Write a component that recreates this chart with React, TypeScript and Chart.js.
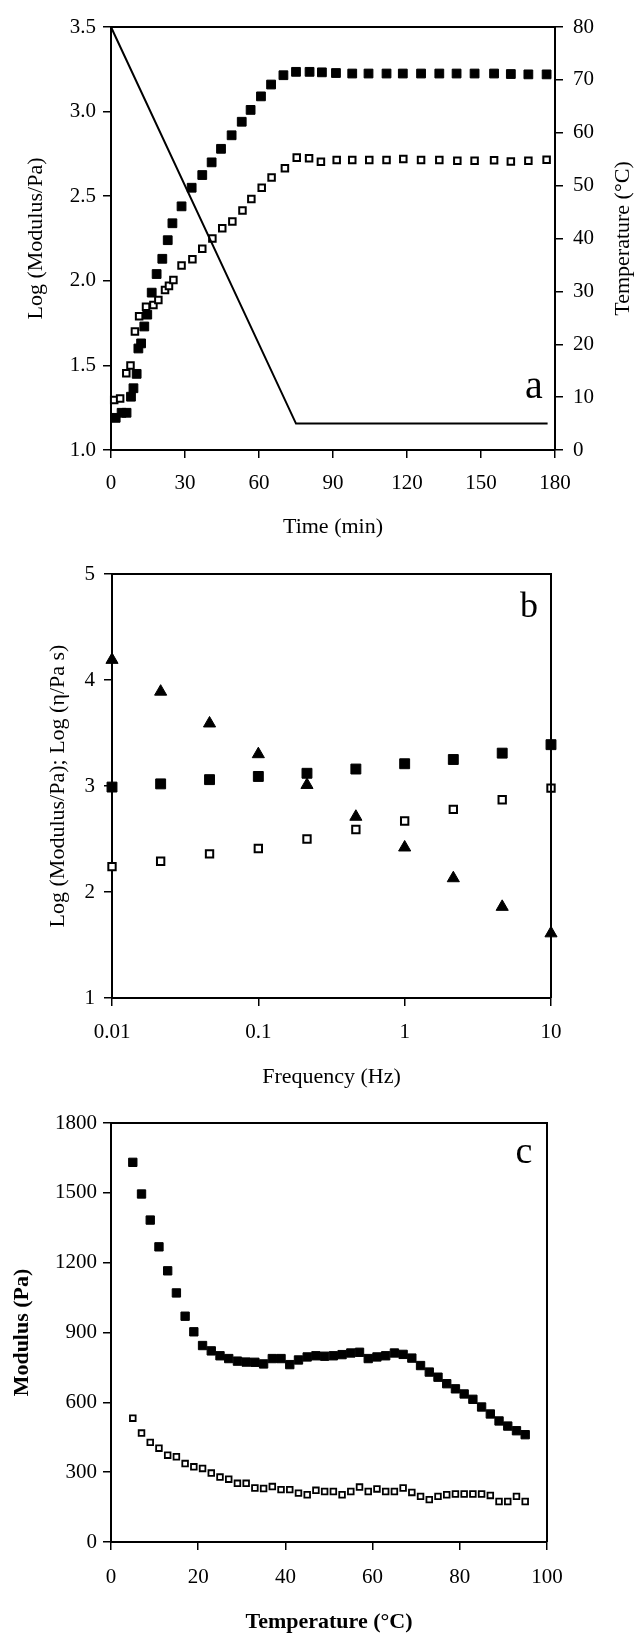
import React, { useEffect, useRef } from 'react';
import { Chart, registerables } from 'chart.js';

Chart.register(...registerables);

const FONT = '"Liberation Serif", "Times New Roman", serif';

// ---------- Panel a: time sweep ----------
const aTimeGp = [1.9, 4.3, 6.3, 8.1, 9.1, 10.4, 11.1, 12.2, 13.5, 14.7, 16.5, 18.5, 20.8, 23.0, 24.9, 28.6, 32.7, 37.0, 40.8, 44.6, 48.9, 53.0, 56.6, 60.8, 64.9, 69.9, 75.0, 80.5, 85.5, 91.2, 97.8, 104.4, 111.7, 118.3, 125.7, 133.1, 140.1, 147.4, 155.3, 162.1, 169.2, 176.6];
const aLogGp = [1.19, 1.22, 1.22, 1.315, 1.365, 1.45, 1.6, 1.63, 1.73, 1.8, 1.93, 2.04, 2.13, 2.24, 2.34, 2.44, 2.55, 2.625, 2.7, 2.78, 2.86, 2.94, 3.01, 3.09, 3.16, 3.215, 3.235, 3.235, 3.232, 3.228, 3.225, 3.225, 3.225, 3.225, 3.225, 3.225, 3.225, 3.225, 3.225, 3.222, 3.22, 3.22];
const aTimeGpp = [1.3, 3.7, 6.2, 7.9, 9.7, 11.4, 14.2, 17.2, 19.2, 21.9, 23.5, 25.3, 28.6, 33.0, 37.0, 41.1, 45.1, 49.2, 53.3, 56.9, 61.1, 65.1, 70.5, 75.3, 80.3, 85.1, 91.5, 97.8, 104.7, 111.7, 118.5, 125.7, 133.1, 140.4, 147.4, 155.3, 162.1, 169.2, 176.6];
const aLogGpp = [1.296, 1.305, 1.453, 1.5, 1.7, 1.79, 1.847, 1.857, 1.887, 1.946, 1.97, 2.005, 2.09, 2.127, 2.19, 2.25, 2.31, 2.35, 2.416, 2.484, 2.55, 2.61, 2.665, 2.728, 2.724, 2.704, 2.714, 2.714, 2.714, 2.714, 2.72, 2.714, 2.714, 2.71, 2.71, 2.712, 2.705, 2.71, 2.715];
const aTempTime = [0, 75, 177];
const aTempC = [80, 5, 5];
const aXTicks = ['0', '30', '60', '90', '120', '150', '180'];
const aYTicks = ['1.0', '1.5', '2.0', '2.5', '3.0', '3.5'];
const aTTicks = ['0', '10', '20', '30', '40', '50', '60', '70', '80'];

// ---------- Panel b: frequency sweep ----------
const bFreq = [0.01, 0.0215, 0.0464, 0.1, 0.215, 0.464, 1, 2.15, 4.64, 10];
const bLogGp = [2.99, 3.02, 3.06, 3.09, 3.12, 3.16, 3.21, 3.25, 3.31, 3.39];
const bLogGpp = [2.24, 2.29, 2.36, 2.41, 2.5, 2.59, 2.67, 2.78, 2.87, 2.98];
const bLogEta = [4.19, 3.89, 3.59, 3.3, 3.01, 2.71, 2.42, 2.13, 1.86, 1.61];
const bXTickValues = [0.01, 0.1, 1, 10];
const bXTicks = ['0.01', '0.1', '1', '10'];
const bYTicks = ['1', '2', '3', '4', '5'];

// ---------- Panel c: temperature sweep ----------
const cTemp = [5, 7, 9, 11, 13, 15, 17, 19, 21, 23, 25, 27, 29, 31, 33, 35, 37, 39, 41, 43, 45, 47, 49, 51, 53, 55, 57, 59, 61, 63, 65, 67, 69, 71, 73, 75, 77, 79, 81, 83, 85, 87, 89, 91, 93, 95];
const cGp = [1631, 1495, 1383, 1268, 1165, 1070, 970, 903, 844, 821, 800, 788, 777, 773, 772, 765, 788, 788, 762, 782, 795, 800, 798, 800, 805, 812, 815, 788, 795, 800, 812, 806, 790, 758, 730, 708, 680, 658, 636, 613, 580, 550, 520, 498, 478, 461];
const cGpp = [532, 468, 428, 403, 373, 366, 337, 323, 316, 296, 279, 270, 252, 252, 232, 230, 238, 225, 225, 210, 203, 222, 217, 217, 203, 217, 236, 217, 228, 217, 217, 232, 213, 196, 182, 196, 203, 206, 206, 206, 206, 200, 174, 174, 196, 174];
const cXTicks = ['0', '20', '40', '60', '80', '100'];
const cYTicks = ['0', '300', '600', '900', '1200', '1500', '1800'];

const pts = (xs: number[], ys: number[]) => xs.map((x, i) => ({ x, y: ys[i] }));

const tickFont = { family: FONT, size: 21 };

function axis(extra: any, tickExtra: any) {
  return {
    grid: { drawOnChartArea: false, drawTicks: true, tickLength: 8, color: '#000', lineWidth: 1.5 },
    border: { display: true, color: '#000', width: 2 },
    ...extra,
    ticks: { color: '#000', font: tickFont, autoSkip: false, maxRotation: 0, minRotation: 0, ...tickExtra },
  };
}

function textPlugin(o: any) {
  return {
    id: 'panelText',
    afterDraw(chart: any) {
      const { ctx, chartArea: ca } = chart;
      ctx.save();
      // frame (top and right sides of the plot box)
      ctx.strokeStyle = '#000';
      ctx.lineWidth = 2;
      ctx.beginPath();
      ctx.moveTo(ca.left, ca.top);
      ctx.lineTo(ca.right, ca.top);
      ctx.lineTo(ca.right, ca.bottom);
      ctx.stroke();
      ctx.fillStyle = '#000';
      ctx.textAlign = 'center';
      ctx.textBaseline = 'middle';
      const weight = o.bold ? 'bold ' : '';
      ctx.font = `${weight}${o.titleSize}px ${FONT}`;
      const midY = (ca.top + ca.bottom) / 2;
      ctx.save();
      ctx.translate(ca.left - o.leftOffset, midY);
      ctx.rotate(-Math.PI / 2);
      ctx.fillText(o.leftTitle, 0, 0);
      ctx.restore();
      if (o.rightTitle) {
        ctx.save();
        ctx.translate(ca.right + o.rightOffset, midY);
        ctx.rotate(-Math.PI / 2);
        ctx.fillText(o.rightTitle, 0, 0);
        ctx.restore();
      }
      ctx.fillText(o.bottomTitle, (ca.left + ca.right) / 2, ca.bottom + o.bottomOffset);
      ctx.font = `${o.letterSize}px ${FONT}`;
      ctx.fillText(o.letter, ca.right + o.letterDx, o.letterFromTop ? ca.top + o.letterDy : ca.bottom + o.letterDy);
      ctx.restore();
    },
  };
}

const filled = (r: number) => ({ pointStyle: 'rect', pointRadius: r, backgroundColor: '#000', borderColor: '#000', borderWidth: 1, clip: false });
const open = (r: number, bw: number) => ({ pointStyle: 'rect', pointRadius: r, backgroundColor: '#fff', borderColor: '#000', borderWidth: bw, clip: false });

function configA(): any {
  return {
    type: 'scatter',
    data: {
      datasets: [
        { data: pts(aTempTime, aTempC), yAxisID: 'yT', showLine: true, pointRadius: 0, borderColor: '#000', borderWidth: 2, clip: false },
        { data: pts(aTimeGpp, aLogGpp), yAxisID: 'y', ...open(4.6, 2) },
        { data: pts(aTimeGp, aLogGp), yAxisID: 'y', ...filled(6.2) },
      ],
    },
    options: {
      animation: false,
      responsive: false,
      events: [],
      layout: { padding: { left: 0, right: 0, top: 27, bottom: 0 } },
      plugins: { legend: { display: false }, tooltip: { enabled: false } },
      scales: {
        x: axis({ type: 'linear', min: 0, max: 180, afterFit: (s: any) => { s.height = 95; } },
          { stepSize: 30, padding: 13, callback: (_v: any, i: number) => aXTicks[i] }),
        y: axis({ type: 'linear', position: 'left', min: 1, max: 3.5, afterFit: (s: any) => { s.width = 111; } },
          { stepSize: 0.5, padding: 7, callback: (_v: any, i: number) => aYTicks[i] }),
        yT: axis({ type: 'linear', position: 'right', min: 0, max: 80, afterFit: (s: any) => { s.width = 80; } },
          { stepSize: 10, padding: 10, callback: (_v: any, i: number) => aTTicks[i] }),
      },
    },
    plugins: [textPlugin({
      leftTitle: 'Log (Modulus/Pa)', leftOffset: 75,
      rightTitle: 'Temperature (°C)', rightOffset: 68,
      bottomTitle: 'Time (min)', bottomOffset: 77,
      titleSize: 22, bold: false,
      letter: 'a', letterSize: 40, letterDx: -21, letterDy: -63, letterFromTop: false,
    })],
  };
}

function configB(): any {
  return {
    type: 'scatter',
    data: {
      datasets: [
        { data: pts(bFreq, bLogGpp), ...open(5.2, 2) },
        { data: pts(bFreq, bLogGp), ...filled(7) },
        { data: pts(bFreq, bLogEta), pointStyle: 'triangle', pointRadius: 7, backgroundColor: '#000', borderColor: '#000', borderWidth: 1, clip: false },
      ],
    },
    options: {
      animation: false,
      responsive: false,
      events: [],
      layout: { padding: { left: 0, right: 84, top: 29, bottom: 0 } },
      plugins: { legend: { display: false }, tooltip: { enabled: false } },
      scales: {
        x: axis({
          type: 'logarithmic', min: 0.01, max: 10,
          afterBuildTicks: (s: any) => { s.ticks = bXTickValues.map((v) => ({ value: v, major: true })); },
          afterFit: (s: any) => { s.height = 97; },
        }, { padding: 14, callback: (_v: any, i: number) => bXTicks[i] }),
        y: axis({ type: 'linear', position: 'left', min: 1, max: 5, afterFit: (s: any) => { s.width = 112; } },
          { stepSize: 1, padding: 9, callback: (_v: any, i: number) => bYTicks[i] }),
      },
    },
    plugins: [textPlugin({
      leftTitle: 'Log (Modulus/Pa); Log (η/Pa s)', leftOffset: 54,
      bottomTitle: 'Frequency (Hz)', bottomOffset: 79,
      titleSize: 22, bold: false,
      letter: 'b', letterSize: 36, letterDx: -22, letterDy: 34, letterFromTop: true,
    })],
  };
}

function configC(): any {
  return {
    type: 'scatter',
    data: {
      datasets: [
        { data: pts(cTemp, cGpp), ...open(4, 1.8) },
        { data: pts(cTemp, cGp), ...filled(5.9) },
      ],
    },
    options: {
      animation: false,
      responsive: false,
      events: [],
      layout: { padding: { left: 0, right: 88, top: 28, bottom: 0 } },
      plugins: { legend: { display: false }, tooltip: { enabled: false } },
      scales: {
        x: axis({ type: 'linear', min: 0, max: 100, afterFit: (s: any) => { s.height = 91; } },
          { stepSize: 20, padding: 15, callback: (_v: any, i: number) => cXTicks[i] }),
        y: axis({ type: 'linear', position: 'left', min: 0, max: 1800, afterFit: (s: any) => { s.width = 111; } },
          { stepSize: 300, padding: 6, callback: (_v: any, i: number) => cYTicks[i] }),
      },
    },
    plugins: [textPlugin({
      leftTitle: 'Modulus (Pa)', leftOffset: 89,
      bottomTitle: 'Temperature (°C)', bottomOffset: 80,
      titleSize: 22, bold: true,
      letter: 'c', letterSize: 38, letterDx: -23, letterDy: 30, letterFromTop: true,
    })],
  };
}

function Panel({ top, height, make }: { top: number; height: number; make: () => any }) {
  const ref = useRef<HTMLCanvasElement | null>(null);
  useEffect(() => {
    if (!ref.current) return;
    const chart = new Chart(ref.current, make());
    return () => chart.destroy();
  }, [make]);
  return (
    <canvas
      ref={ref}
      width={635}
      height={height}
      style={{ position: 'absolute', left: 0, top, width: 635, height, display: 'block' }}
    />
  );
}

export default function App() {
  return (
    <div style={{ position: 'absolute', left: 0, top: 0, width: 635, height: 1633, background: '#fff' }}>
      <Panel top={0} height={545} make={configA} />
      <Panel top={545} height={550} make={configB} />
      <Panel top={1095} height={538} make={configC} />
    </div>
  );
}
